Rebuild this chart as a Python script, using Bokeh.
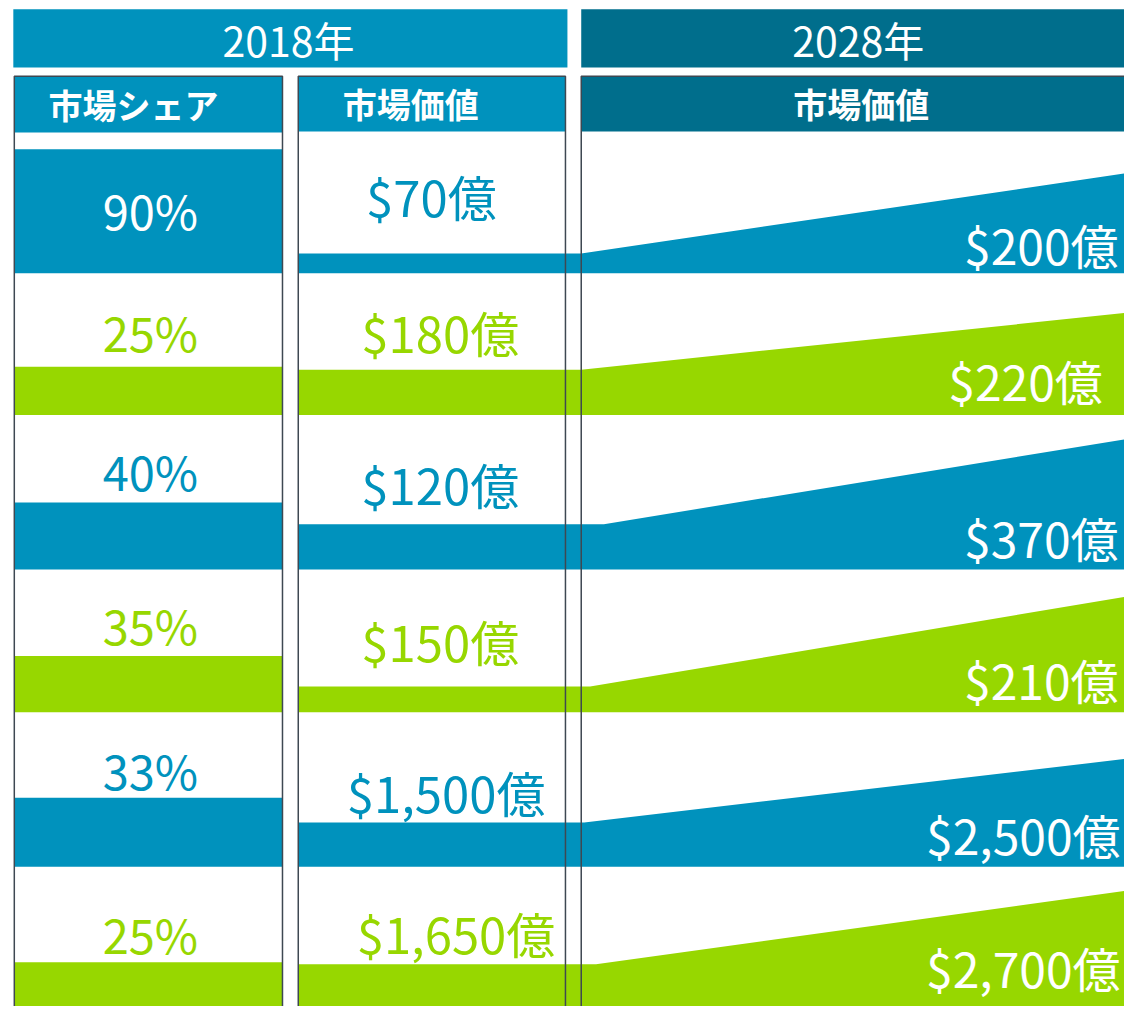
from bokeh.plotting import figure
from bokeh.models import Range1d
from bokeh.core.properties import value
from bokeh.embed import file_html
from bokeh.resources import INLINE

# ---- data ----
years = ["2018年", "2028年"]
col_headers = ["市場シェア", "市場価値", "市場価値"]
share_2018 = [90, 25, 40, 35, 33, 25]           # %
value_2018 = [70, 180, 120, 150, 1500, 1650]     # 億ドル
value_2028 = [200, 220, 370, 210, 2500, 2700]    # 億ドル

# ---- layout (reference pixel coordinates) ----
row_bottom = [277, 421, 578, 723, 880, 1040]
share_bar_top = [151, 372, 510, 666, 810, 977]
v18_bar_top = [257, 375, 532, 697, 835, 979]
v28_bar_top = [175, 317, 445, 605, 770, 904]
slope_start = [589, 589, 612, 598, 592, 604]

share_lbl_y = [212, 336, 477, 634, 781, 948]
v18_lbl_x = [437, 446, 446, 446, 452, 462]
v18_lbl_y = [198, 336, 491, 650, 804, 947]
v28_lbl_x = [1134, 1118, 1134, 1134, 1136, 1136]
v28_lbl_y = [247, 386, 545, 689, 847, 982]

BLUE = "#0092BD"
GREEN = "#97D700"
DARK = "#006E8C"
BORDER = "#3E4852"
FONT = value("Noto Sans CJK JP")

row_colors = [BLUE, GREEN, BLUE, GREEN, BLUE, GREEN]
share_on_bar = [True, False, False, False, False, False]

p = figure(width=1124, height=1006, x_range=Range1d(0, 1140), y_range=Range1d(1022, 0),
           x_axis_type=None, y_axis_type=None, toolbar_location=None,
           output_backend="svg", min_border=0)
p.outline_line_color = None
p.grid.visible = False
p.background_fill_color = "white"
p.border_fill_color = "white"

# year headers
p.quad(left=[13, 589], right=[575, 1145], top=[9, 9], bottom=[68, 68],
       fill_color=[BLUE, DARK], line_color=None)
# column headers
p.quad(left=[14, 302, 589], right=[286, 573, 1145], top=[77, 77, 77], bottom=[134, 133, 133],
       fill_color=[BLUE, BLUE, DARK], line_color=None)

# share bars
p.quad(left=[14] * 6, right=[286] * 6, top=share_bar_top, bottom=row_bottom,
       fill_color=row_colors, line_color=None)

# value bands (2018 bar continuing into 2028 wedge)
xs, ys = [], []
for i in range(6):
    xs.append([302, 302, slope_start[i], 1145, 1145])
    ys.append([row_bottom[i], v18_bar_top[i], v18_bar_top[i], v28_bar_top[i], row_bottom[i]])
p.patches(xs, ys, fill_color=row_colors, line_color=None)

# column borders
p.quad(left=[14, 302, 589], right=[286, 573, 1150], top=[77, 77, 77], bottom=[1050] * 3,
       fill_color=None, line_color=BORDER, line_width=1.5)

# header texts
p.text(x=[292, 870], y=[39, 39], text=years, text_color="white", text_font=FONT,
       text_font_size="41px", text_align="center", text_baseline="middle")
p.text(x=[135, 416, 873], y=[106, 105, 105], text=col_headers, text_color="white",
       text_font=FONT, text_font_size="34px", text_font_style="bold",
       text_align="center", text_baseline="middle")

# share labels
share_txt = [f"{v}%" for v in share_2018]
share_col = ["white" if on else c for on, c in zip(share_on_bar, row_colors)]
p.text(x=[152] * 6, y=share_lbl_y, text=share_txt, text_color=share_col, text_font=FONT,
       text_font_size="47px", text_align="center", text_baseline="middle")

# 2018 value labels
v18_txt = [f"${v:,}億" for v in value_2018]
p.text(x=v18_lbl_x, y=v18_lbl_y, text=v18_txt, text_color=row_colors, text_font=FONT,
       text_font_size="49px", text_align="center", text_baseline="middle")

# 2028 value labels
v28_txt = [f"${v:,}億" for v in value_2028]
p.text(x=v28_lbl_x, y=v28_lbl_y, text=v28_txt, text_color="white", text_font=FONT,
       text_font_size="48px", text_align="right", text_baseline="middle")

open("out.html", "w").write(file_html(p, INLINE))
